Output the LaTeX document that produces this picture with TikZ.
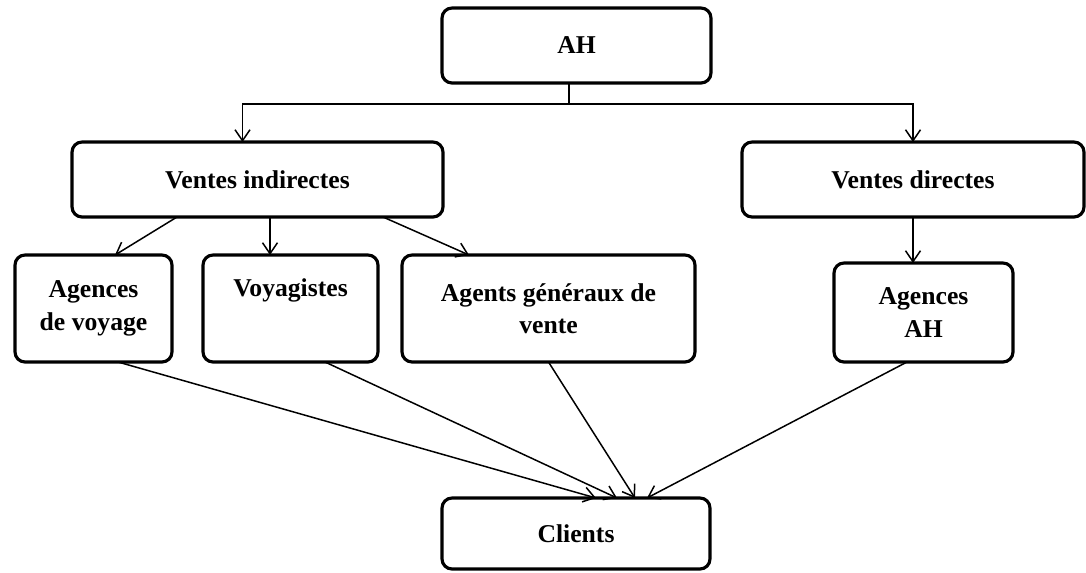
\documentclass[tikz,border=0pt]{standalone}
\usepackage{fontspec}
\setmainfont{Liberation Serif}
\usetikzlibrary{arrows.meta}

\begin{document}
\begin{tikzpicture}[x=0.02cm,y=-0.02cm,
  box/.style = {rectangle,rounded corners=2mm,draw=black,line width=1.8pt,align=center,inner sep=0pt,outer sep=0mm,font=\bfseries\fontsize{14.6}{18.5}\selectfont},
  arr/.style = {line width=0.85pt,-{Straight Barb[length=2.2mm,width=3mm]}}]
\useasboundingbox (0,0) rectangle (1086,572);
% top levels
\node[box,minimum width=5.38cm,minimum height=1.5cm] (ah) at (576.5,45.5) {AH};
\node[box,minimum width=7.42cm,minimum height=1.5cm] (vi) at (257.5,179.5) {Ventes indirectes};
\node[box,minimum width=6.84cm,minimum height=1.5cm] (vd) at (913,179.5) {Ventes directes};
% canaux
\node[box,minimum width=3.14cm,minimum height=2.14cm] (adv) at (93.5,308.5) {Agences\\de voyage};
\node[box,minimum width=3.5cm,minimum height=2.14cm] (voy) at (290.5,308.5) {Voyagistes\\ \strut};
\node[box,minimum width=5.86cm,minimum height=2.14cm] (agv) at (548.5,308.5) {Agents g\'en\'eraux de\\vente};
\node[box,minimum width=3.58cm,minimum height=1.98cm] (aah) at (923.5,312.5) {Agences\\AH};
\node[box,minimum width=5.36cm,minimum height=1.42cm] (cli) at (576,533.5) {Clients};
% AH vers ventes
\coordinate (bus) at (569,104);
\draw[line width=0.85pt] (bus |- ah.south) -- (bus);
\draw[arr] (bus) -| ([xshift=-0.3cm]vi.north);
\draw[arr] (bus) -| (vd.north);
% ventes vers canaux
\draw[arr] ([xshift=-1.61cm]vi.south) -- ([xshift=0.43cm]adv.north);
\draw[arr] ([xshift=0.25cm]vi.south) -- ([xshift=0.25cm]vi.south |- voy.north);
\draw[arr] ([xshift=2.51cm]vi.south) -- ([xshift=-1.59cm]agv.north);
\draw[arr] (vd.south) -- (vd.south |- aah.north);
% canaux vers clients
\draw[arr] ([xshift=0.49cm]adv.south) -- ([xshift=0.4cm]cli.north);
\draw[arr] ([xshift=0.69cm]voy.south) -- ([xshift=0.82cm]cli.north);
\draw[arr] (agv.south) -- ([xshift=1.18cm]cli.north);
\draw[arr] ([xshift=-0.33cm]aah.south) -- ([xshift=1.42cm]cli.north);
\end{tikzpicture}
\end{document}
